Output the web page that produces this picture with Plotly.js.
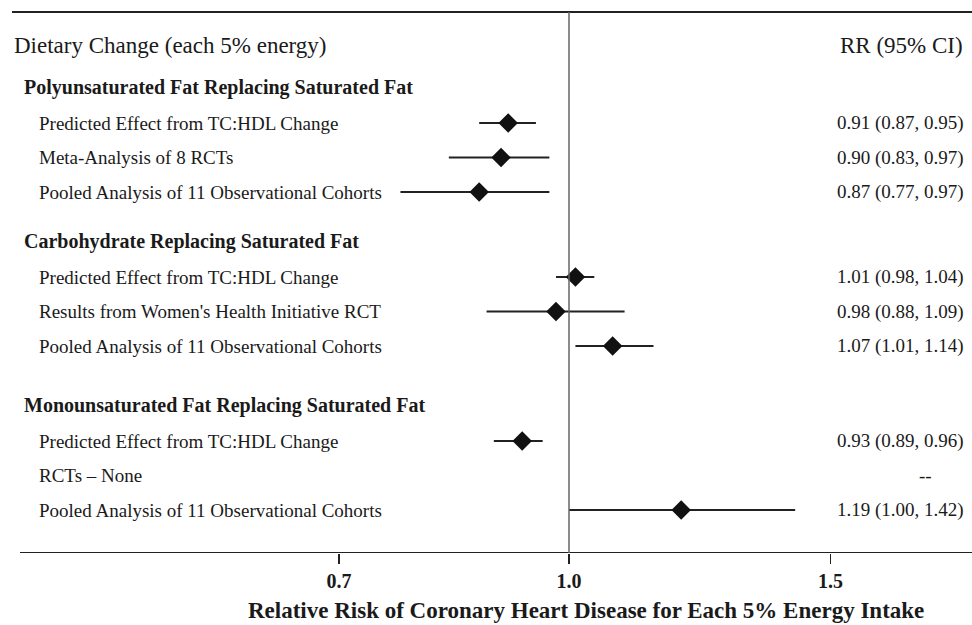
<!DOCTYPE html>
<html>
<head>
<meta charset="utf-8">
<script src="https://cdn.plot.ly/plotly-3.0.1.min.js"></script>
<style>html,body{margin:0;padding:0;background:#fff;}#chart{width:972px;height:625px;}</style>
</head>
<body>
<div id="chart"></div>
<script>
// ---- data ----
const groupTitles = [
  'Polyunsaturated Fat Replacing Saturated Fat',
  'Carbohydrate Replacing Saturated Fat',
  'Monounsaturated Fat Replacing Saturated Fat'
];
const studyLabels = [
  'Predicted Effect from TC:HDL Change',
  'Meta-Analysis of 8 RCTs',
  'Pooled Analysis of 11 Observational Cohorts',
  'Predicted Effect from TC:HDL Change',
  "Results from Women's Health Initiative RCT",
  'Pooled Analysis of 11 Observational Cohorts',
  'Predicted Effect from TC:HDL Change',
  'RCTs \u2013 None',
  'Pooled Analysis of 11 Observational Cohorts'
];
const studyGroup = [0, 0, 0, 1, 1, 1, 2, 2, 2];
const rr    = [0.91, 0.90, 0.87, 1.01, 0.98, 1.07, 0.93, null, 1.19];
const ciLow = [0.87, 0.83, 0.77, 0.98, 0.88, 1.01, 0.89, null, 1.00];
const ciHigh= [0.95, 0.97, 0.97, 1.04, 1.09, 1.14, 0.96, null, 1.42];
const tickValues = [0.7, 1.0, 1.5];
const tickLabels = ['0.7', '1.0', '1.5'];
const headerLeft = 'Dietary Change (each 5% energy)';
const headerRight = 'RR (95% CI)';
const axisTitle = 'Relative Risk of Coronary Heart Disease for Each 5% Energy Intake';

// ---- layout helpers (pixel-like y units) ----
const W = 972, H = 625;
const groupHeadY = [87, 241, 405];
const firstOffset = 36, rowStep = 34.5;
const rowY = [];
const counters = [0, 0, 0];
studyGroup.forEach((g) => { rowY.push(groupHeadY[g] + firstOffset + rowStep * counters[g]); counters[g]++; });

const FONT = 'Liberation Serif, Times New Roman, serif';
const TXT = '#1a1a1a';
const px = (p) => p / W;

const annotations = [];
annotations.push({xref:'paper', yref:'y', x:px(12), y:45, xanchor:'left', yanchor:'middle', text:headerLeft, showarrow:false, font:{family:FONT, size:23, color:TXT}});
annotations.push({xref:'paper', yref:'y', x:px(965), y:45, xanchor:'right', yanchor:'middle', text:headerRight, showarrow:false, font:{family:FONT, size:23, color:TXT}});
groupTitles.forEach((t, i) => {
  annotations.push({xref:'paper', yref:'y', x:px(22), y:groupHeadY[i], xanchor:'left', yanchor:'middle', text:'<b>'+t+'</b>', showarrow:false, font:{family:FONT, size:20, color:TXT}});
});
studyLabels.forEach((t, i) => {
  annotations.push({xref:'paper', yref:'y', x:px(37), y:rowY[i], xanchor:'left', yanchor:'middle', text:t, showarrow:false, font:{family:FONT, size:19, color:TXT}});
  const ci = rr[i] === null ? '--' : rr[i].toFixed(2) + ' (' + ciLow[i].toFixed(2) + ', ' + ciHigh[i].toFixed(2) + ')';
  const xa = rr[i] === null ? px(925) : px(966);
  annotations.push({xref:'paper', yref:'y', x:xa, y:rowY[i], xanchor: rr[i] === null ? 'center' : 'right', yanchor:'middle', text:ci, showarrow:false, font:{family:FONT, size:19, color:TXT}});
});
annotations.push({xref:'paper', yref:'paper', x:px(586), y:-(610-553)/553, xanchor:'center', yanchor:'middle', text:'<b>'+axisTitle+'</b>', showarrow:false, font:{family:FONT, size:23, color:TXT}});

const idx = rr.map((v, i) => v === null ? -1 : i).filter(i => i >= 0);
const trace = {
  type:'scatter', mode:'markers',
  x: idx.map(i => rr[i]),
  y: idx.map(i => rowY[i]),
  marker:{symbol:'diamond', size:15, color:'#111'},
  error_x:{type:'data', symmetric:false,
    array: idx.map(i => ciHigh[i] - rr[i]),
    arrayminus: idx.map(i => rr[i] - ciLow[i]),
    width:0, thickness:2, color:'#222'},
  hoverinfo:'skip', showlegend:false, cliponaxis:false
};

const pxPerLog10 = 1485, oneAt = 569;
const layout = {
  width:W, height:H,
  margin:{l:0, r:0, t:0, b:72, pad:0},
  paper_bgcolor:'#fff', plot_bgcolor:'#fff',
  showlegend:false,
  xaxis:{type:'log', range:[-oneAt/pxPerLog10, (W-oneAt)/pxPerLog10],
    tickvals:tickValues, ticktext:tickLabels, ticks:'outside', ticklen:10, tickwidth:1.5, tickcolor:'#222',
    showgrid:false, zeroline:false, showline:false, automargin:false,
    tickfont:{family:FONT, size:20, color:TXT, weight:'bold'}},
  yaxis:{range:[553, 0], visible:false, showgrid:false, zeroline:false, fixedrange:true},
  shapes:[
    {type:'line', xref:'paper', yref:'y', x0:px(12), x1:1, y0:12, y1:12, line:{color:'#222', width:2}},
    {type:'line', xref:'paper', yref:'y', x0:px(20), x1:1, y0:553, y1:553, line:{color:'#222', width:2}},
    {type:'line', xref:'x', yref:'y', x0:1, x1:1, y0:12, y1:553, line:{color:'#666', width:1.5}}
  ],
  annotations: annotations
};
Plotly.newPlot('chart', [trace], layout, {staticPlot:true, displayModeBar:false});
</script>
</body>
</html>
